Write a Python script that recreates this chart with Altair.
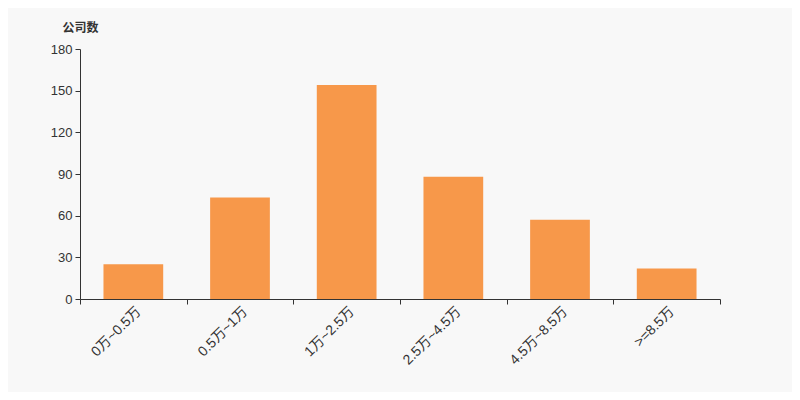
import altair as alt
import pandas as pd

categories = ["0万~0.5万", "0.5万~1万", "1万~2.5万", "2.5万~4.5万", "4.5万~8.5万", ">=8.5万"]
counts = [25, 73, 154, 88, 57, 22]
y_ticks = [0, 30, 60, 90, 120, 150, 180]

df = pd.DataFrame({"cat": categories, "n": counts})
FONT = "Liberation Sans, Arial, Noto Sans CJK SC"

chart = alt.Chart(df).mark_bar(color="#f7984a", width=alt.RelativeBandSize(0.56)).encode(
    x=alt.X("cat:N", sort=categories, title=None,
            scale=alt.Scale(paddingInner=0, paddingOuter=0),
            axis=alt.Axis(labelAngle=-45, labelAlign="right", labelBaseline="top",
                          tickBand="extent", tickSize=5, labelPadding=0,
                          domainColor="#333333", tickColor="#333333",
                          labelColor="#333333", labelFontSize=14, labelFont=FONT)),
    y=alt.Y("n:Q", title="公司数",
            scale=alt.Scale(domain=[0, 180], nice=False),
            axis=alt.Axis(values=y_ticks, grid=False, tickSize=5, labelPadding=3,
                          domainColor="#333333", tickColor="#333333",
                          labelColor="#333333", labelFontSize=13, labelFont=FONT,
                          titleAngle=0, titleAlign="center", titleBaseline="middle",
                          titleX=0, titleY=-22, titleFontSize=12, titleFont=FONT,
                          titleFontWeight="bold", titleColor="#333333")),
).properties(
    width=640, height=250,
    background="#f8f8f8",
    padding={"left": 72, "top": 41, "right": 72, "bottom": 93},
    autosize=alt.AutoSizeParams(type="none"),
).configure_view(stroke=None)

chart.save("out.html", embed_options={"renderer": "svg", "actions": False})
